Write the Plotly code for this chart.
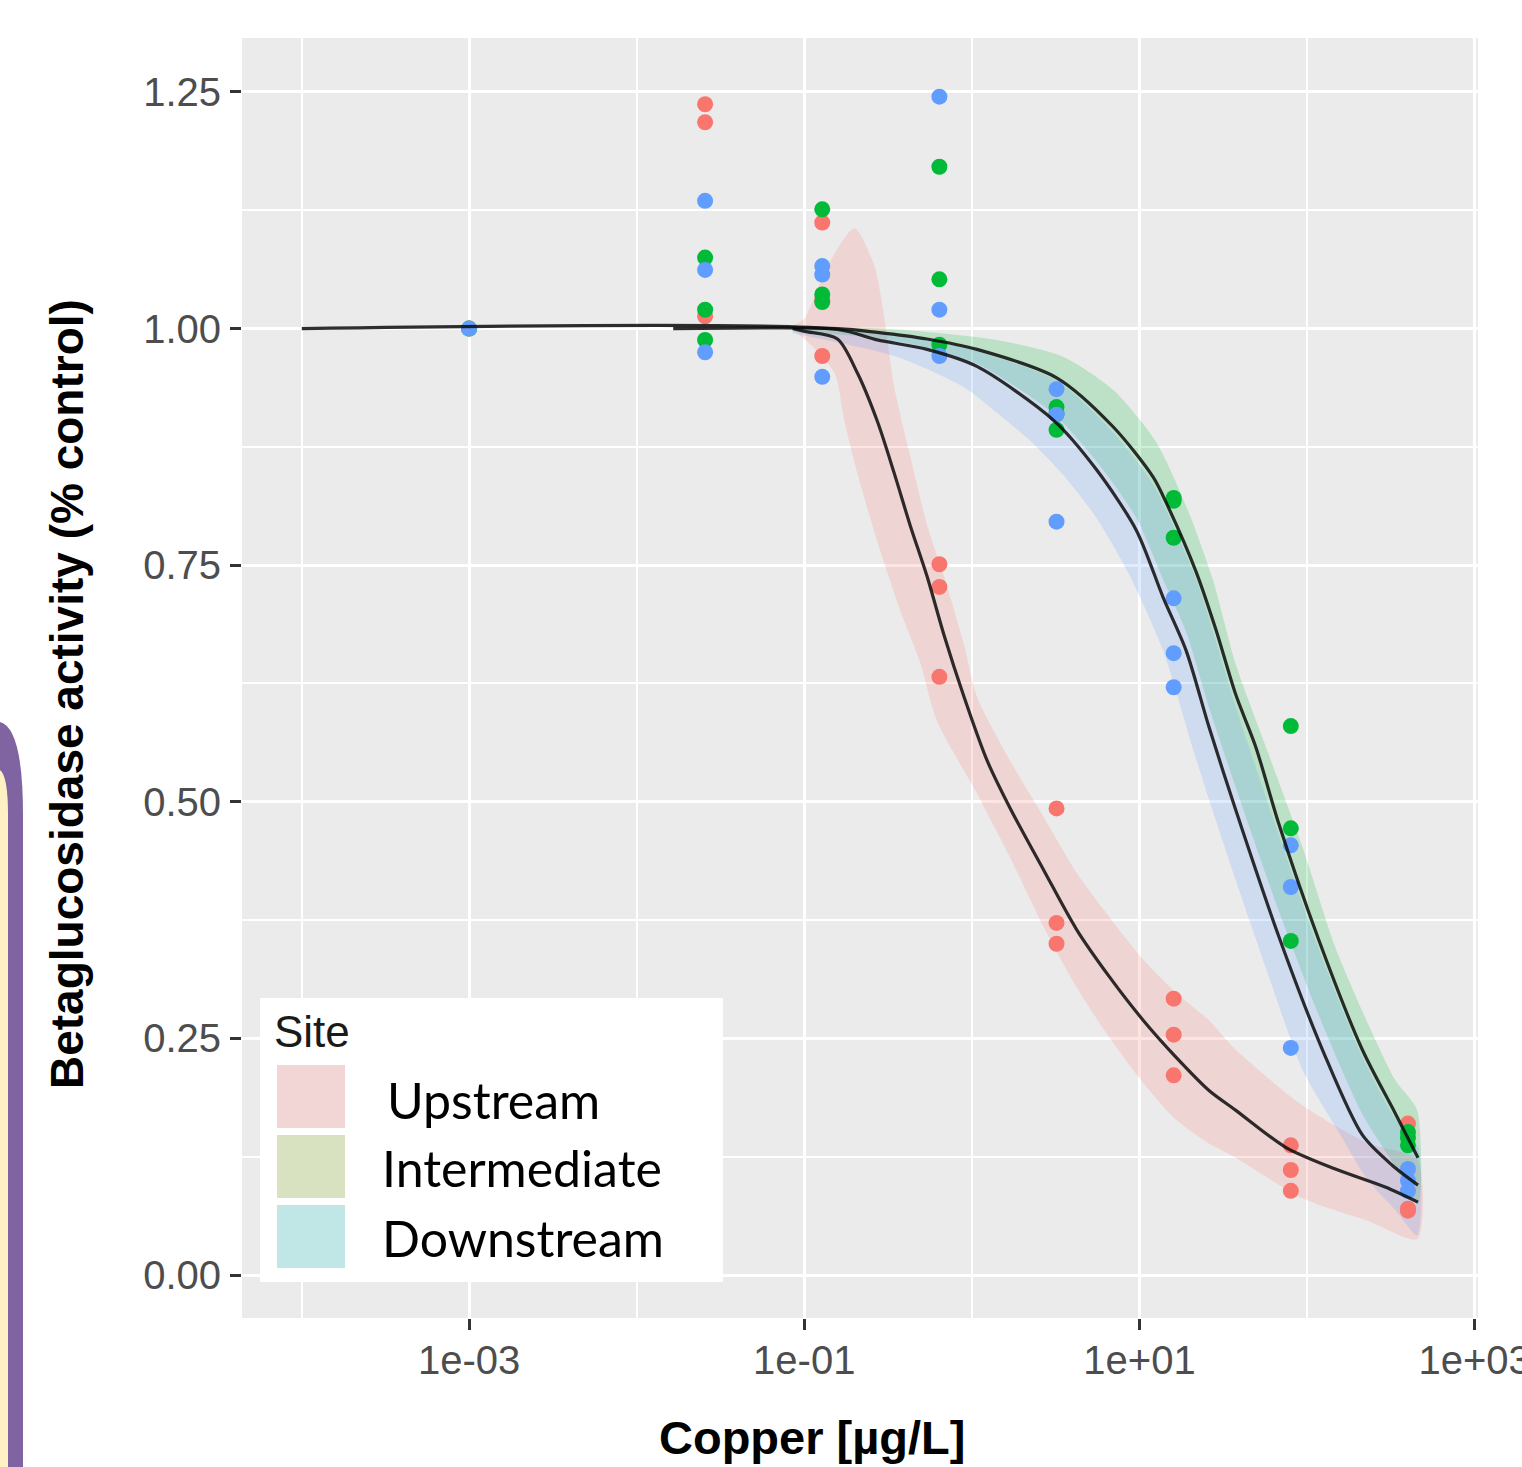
import numpy as np
import plotly.graph_objects as go

# ---------------- data ----------------
doses = [0.0256, 0.128, 0.64, 3.2, 16, 80, 400]
control_dose = [0.001]
control_resp = {"Upstream": [1.0], "Intermediate": [1.0], "Downstream": [1.0]}

up_reps = [[1.237, 1.218, 1.013], [1.112, 1.030, 0.971], [0.751, 0.727, 0.632],
           [0.493, 0.372, 0.350], [0.292, 0.254, 0.211], [0.137, 0.111, 0.089],
           [0.160, 0.070, 0.068]]
int_reps = [[1.075, 1.020, 0.988], [1.126, 1.036, 1.028], [1.171, 1.052, 0.983],
            [0.917, 0.910, 0.893], [0.821, 0.818, 0.779], [0.580, 0.472, 0.353],
            [0.151, 0.145, 0.137]]
down_reps = [[1.135, 1.062, 0.975], [1.066, 1.057, 0.949], [1.245, 1.020, 0.971],
             [0.936, 0.909, 0.796], [0.715, 0.657, 0.621], [0.454, 0.410, 0.240],
             [0.112, 0.100, 0.089]]

# fitted curves (log10 dose, response)
up_curve_lx = [-1.069, -0.998, -0.802, -0.683, -0.564, -0.463, -0.368, -0.267, -0.166, -0.047,
               0.090, 0.226, 0.428, 0.625, 0.821, 1.023, 1.219, 1.415, 1.575, 1.872, 2.169, 2.466, 2.662]
up_curve_y = [1.000, 0.997, 0.989, 0.953, 0.902, 0.847, 0.792, 0.738, 0.676, 0.611,
              0.544, 0.494, 0.428, 0.365, 0.315, 0.269, 0.230, 0.195, 0.174, 0.135, 0.112, 0.093, 0.077]
int_curve_lx = [-1.782, -0.802, -0.564, -0.267, 0.030, 0.506, 0.844, 1.082, 1.165, 1.338, 1.456,
                1.575, 1.694, 1.831, 2.068, 2.330, 2.526, 2.662]
int_curve_y = [1.000, 1.000, 0.996, 0.989, 0.978, 0.948, 0.896, 0.843, 0.814, 0.743, 0.682,
               0.613, 0.558, 0.477, 0.355, 0.238, 0.171, 0.124]
down_curve_lx = [-3.998, -0.802, -0.564, -0.267, 0.030, 0.488, 0.743, 0.981, 1.141, 1.278, 1.415,
                 1.575, 1.831, 2.092, 2.330, 2.508, 2.662]
down_curve_y = [1.000, 0.999, 0.988, 0.978, 0.960, 0.903, 0.851, 0.787, 0.716, 0.660, 0.579,
                0.491, 0.358, 0.238, 0.148, 0.116, 0.095]

# confidence bands
up_hi_lx = [-1.069, -0.998, -0.861, -0.701, -0.582, -0.522, -0.463, -0.368, -0.267, -0.166, -0.047,
            0.030, 0.226, 0.428, 0.625, 0.821, 1.023, 1.219, 1.415, 1.575, 1.973, 2.365, 2.657]
up_hi_y = [1.003, 1.011, 1.066, 1.106, 1.066, 1.011, 0.938, 0.865, 0.792, 0.738, 0.666,
           0.611, 0.544, 0.484, 0.425, 0.378, 0.333, 0.298, 0.269, 0.238, 0.179, 0.139, 0.122]
up_lo_lx = [-1.069, -0.962, -0.819, -0.760, -0.683, -0.564, -0.427, -0.308, -0.207, 0.030, 0.226,
            0.428, 0.625, 0.821, 1.023, 1.219, 1.415, 1.575, 1.973, 2.365, 2.657]
up_lo_y = [0.999, 0.983, 0.953, 0.902, 0.847, 0.775, 0.702, 0.647, 0.585, 0.509, 0.442,
           0.368, 0.304, 0.251, 0.203, 0.164, 0.139, 0.124, 0.081, 0.057, 0.038]

int_hi_lx = [-1.069, -0.445, 0.149, 0.547, 0.844, 1.100, 1.296, 1.439, 1.575,
             1.771, 1.973, 2.169, 2.365, 2.526, 2.657]
int_hi_y = [1.003, 0.999, 0.988, 0.970, 0.935, 0.880, 0.805, 0.734, 0.645,
            0.550, 0.452, 0.346, 0.265, 0.206, 0.174]
int_lo_lx = [-1.069, -0.564, -0.267, 0.030, 0.488, 0.743, 0.981, 1.141, 1.278, 1.415, 1.575,
             1.831, 2.092, 2.330, 2.508, 2.662]
int_lo_y = [0.997, 0.990, 0.980, 0.963, 0.910, 0.860, 0.800, 0.735, 0.680, 0.600, 0.515,
            0.385, 0.265, 0.170, 0.120, 0.075]

down_hi_lx = [-1.069, -0.564, -0.267, 0.030, 0.506, 0.844, 1.082, 1.338, 1.575, 1.831, 2.068,
              2.330, 2.526, 2.662]
down_hi_y = [1.002, 0.995, 0.988, 0.976, 0.945, 0.890, 0.835, 0.735, 0.600, 0.465, 0.345,
             0.230, 0.165, 0.135]
down_lo_lx = [-1.069, -0.445, -0.047, 0.149, 0.345, 0.547, 0.743, 0.939, 1.141, 1.338, 1.575,
              1.771, 1.973, 2.169, 2.365, 2.526, 2.657]
down_lo_y = [0.995, 0.970, 0.938, 0.911, 0.882, 0.845, 0.800, 0.740, 0.660, 0.545, 0.417,
             0.316, 0.217, 0.157, 0.100, 0.069, 0.042]

sites = ["Upstream", "Intermediate", "Downstream"]
point_colors = {"Upstream": "#F8766D", "Intermediate": "#00BA38", "Downstream": "#619CFF"}
band_colors = {"Upstream": "rgba(248,118,109,0.2)", "Intermediate": "rgba(0,186,56,0.2)",
               "Downstream": "rgba(97,156,255,0.2)"}
legend_key_colors = ["#F2D5D5", "#D8E2C0", "#C0E7E6"]

x_tickvals = [1e-3, 1e-1, 1e1, 1e3]
x_ticktext = ["1e-03", "1e-01", "1e+01", "1e+03"]
x_minor = [1e-4, 1e-2, 1e0, 1e2]
y_tickvals = [0, 0.25, 0.5, 0.75, 1.0, 1.25]
y_ticktext = ["0.00", "0.25", "0.50", "0.75", "1.00", "1.25"]
y_minor = [0.125, 0.375, 0.625, 0.875, 1.125]

reps = {"Upstream": up_reps, "Intermediate": int_reps, "Downstream": down_reps}
curves = {"Upstream": (up_curve_lx, up_curve_y), "Intermediate": (int_curve_lx, int_curve_y),
          "Downstream": (down_curve_lx, down_curve_y)}
bands = {"Upstream": (up_hi_lx, up_hi_y, up_lo_lx, up_lo_y),
         "Intermediate": (int_hi_lx, int_hi_y, int_lo_lx, int_lo_y),
         "Downstream": (down_hi_lx, down_hi_y, down_lo_lx, down_lo_y)}

# ---------------- layout geometry ----------------
W, H = 1522, 1467
PL, PR, PT, PB = 242, 1478, 38, 1318


def pxx(x):
    return (x - PL) / (PR - PL)


def pxy(y):
    return (PB - y) / (PB - PT)


fig = go.Figure()

# bands
for s in ["Upstream", "Intermediate", "Downstream"]:
    hx, hy, lx, ly = bands[s]
    xs = list(10 ** np.array(hx)) + list(10 ** np.array(lx))[::-1]
    ys = list(hy) + list(ly)[::-1]
    fig.add_trace(go.Scatter(x=xs, y=ys, fill="toself", fillcolor=band_colors[s],
                             line=dict(width=0, shape="spline", smoothing=0.7), mode="lines",
                             hoverinfo="skip", showlegend=False))

# points
for s in sites:
    xs, ys = [], []
    for d, r in zip(doses, reps[s]):
        xs += [d] * len(r)
        ys += r
    fig.add_trace(go.Scatter(x=xs, y=ys, mode="markers",
                             marker=dict(size=16, color=point_colors[s], line=dict(width=0)),
                             showlegend=False, name=s))
for s in sites:
    fig.add_trace(go.Scatter(x=control_dose, y=control_resp[s], mode="markers",
                             marker=dict(size=16, color=point_colors[s], line=dict(width=0)),
                             showlegend=False))

# curves
for s in sites:
    lx, cy = curves[s]
    fig.add_trace(go.Scatter(x=10 ** np.array(lx), y=cy, mode="lines",
                             line=dict(color="rgba(10,10,10,0.85)", width=3.2, shape="spline", smoothing=0.8),
                             hoverinfo="skip", showlegend=False))

tickfont = dict(family="Liberation Sans, Arial", size=40, color="#4D4D4D")
fig.update_xaxes(type="log", range=[-4.355, 3.02], tickvals=x_tickvals, ticktext=x_ticktext,
                 showgrid=True, gridcolor="white", gridwidth=3,
                 minor=dict(tickvals=x_minor, showgrid=True, gridcolor="white", gridwidth=1.7, ticks=""),
                 ticks="outside", ticklen=11, tickwidth=2.5, tickcolor="#333333",
                 tickfont=tickfont, zeroline=False, showline=False, ticklabelstandoff=-4,
                 ticklabeloverflow="allow", automargin=False)
fig.update_yaxes(range=[-0.0454, 1.307], tickvals=y_tickvals, ticktext=y_ticktext,
                 showgrid=True, gridcolor="white", gridwidth=3,
                 minor=dict(tickvals=y_minor, showgrid=True, gridcolor="white", gridwidth=1.7, ticks=""),
                 ticks="outside", ticklen=11, tickwidth=2.5, tickcolor="#333333",
                 tickfont=tickfont, zeroline=False, showline=False, ticklabelstandoff=1,
                 automargin=False)

shapes = []
# legend box
shapes.append(dict(type="rect", xref="paper", yref="paper", x0=pxx(260), x1=pxx(723),
                   y0=pxy(1282), y1=pxy(998), fillcolor="white", line=dict(width=0), layer="above"))
key_tops = [1065, 1135, 1205]
for top, c in zip(key_tops, legend_key_colors):
    shapes.append(dict(type="rect", xref="paper", yref="paper", x0=pxx(277), x1=pxx(345),
                       y0=pxy(top + 63), y1=pxy(top), fillcolor=c, line=dict(width=0), layer="above"))
# purple poster border on the left
purple = (f"M {pxx(0)},{pxy(722)} Q {pxx(23)},{pxy(728)} {pxx(23)},{pxy(815)} "
          f"L {pxx(23)},{pxy(1470)} L {pxx(0)},{pxy(1470)} Z")
cream = (f"M {pxx(0)},{pxy(770)} Q {pxx(8)},{pxy(776)} {pxx(8)},{pxy(815)} "
         f"L {pxx(8)},{pxy(1470)} L {pxx(0)},{pxy(1470)} Z")
shapes.append(dict(type="path", xref="paper", yref="paper", path=purple, fillcolor="#8064A2",
                   line=dict(width=0), layer="above"))
shapes.append(dict(type="path", xref="paper", yref="paper", path=cream, fillcolor="#FFF1C4",
                   line=dict(width=0), layer="above"))

annotations = [
    dict(text="Site", x=pxx(272), y=pxy(1031), xref="paper", yref="paper", xanchor="left",
         yanchor="middle", showarrow=False, font=dict(family="Liberation Sans, Arial", size=44, color="#1A1A1A")),
    dict(text="Upstream", x=pxx(385), y=pxy(1100), xref="paper", yref="paper", xanchor="left",
         yanchor="middle", showarrow=False, font=dict(family="Lato, Liberation Sans", size=50, color="black")),
    dict(text="Intermediate", x=pxx(380), y=pxy(1168), xref="paper", yref="paper", xanchor="left",
         yanchor="middle", showarrow=False, font=dict(family="Lato, Liberation Sans", size=50, color="black")),
    dict(text="Downstream", x=pxx(380), y=pxy(1238), xref="paper", yref="paper", xanchor="left",
         yanchor="middle", showarrow=False, font=dict(family="Lato, Liberation Sans", size=50, color="black")),
    dict(text="<b>Betaglucosidase activity (% control)</b>", x=pxx(67), y=pxy(694), xref="paper",
         yref="paper", xanchor="center", yanchor="middle", textangle=-90, showarrow=False,
         font=dict(family="Liberation Sans, Arial", size=46, color="black")),
    dict(text="<b>Copper [µg/L]</b>", x=pxx(812), y=pxy(1437), xref="paper", yref="paper",
         xanchor="center", yanchor="middle", showarrow=False,
         font=dict(family="Liberation Sans, Arial", size=47, color="black")),
]

fig.update_layout(width=W, height=H, margin=dict(l=PL, r=W - PR, t=PT, b=H - PB, pad=0, autoexpand=False),
                  plot_bgcolor="#EBEBEB", paper_bgcolor="white", shapes=shapes,
                  annotations=annotations, showlegend=False)

fig.write_html("out.html", config={"displayModeBar": False},
               post_script="document.body.style.margin='0px';")
